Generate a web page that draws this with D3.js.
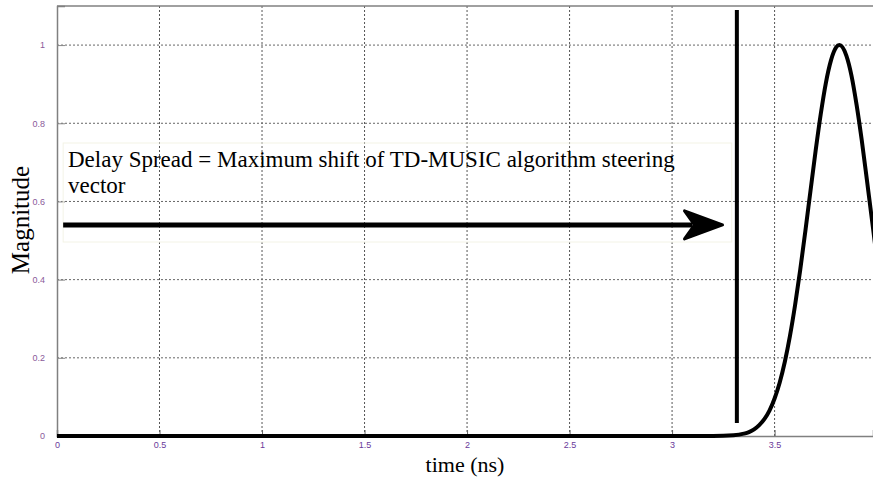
<!DOCTYPE html>
<html>
<head>
<meta charset="utf-8">
<script src="https://cdn.jsdelivr.net/npm/d3@7"></script>
<style>
  html, body { margin: 0; padding: 0; background: #fff; }
  svg { display: block; }
</style>
</head>
<body>
<svg id="chart" width="873" height="482"></svg>
<script>
// ---- data ----
const times = [0, 0.5, 1, 1.5, 2, 2.5, 2.8, 3.0, 3.2, 3.3, 3.35, 3.375, 3.4, 3.425, 3.45, 3.475, 3.5, 3.525, 3.55, 3.575, 3.6, 3.625, 3.65, 3.675, 3.7, 3.725, 3.75, 3.775, 3.8, 3.816, 3.85, 3.875, 3.9, 3.925, 3.95, 3.965, 3.98, 3.99];
const magnitudes = [0, 0, 0, 0, 0, 0, 0, 0, 0, 0.002, 0.006, 0.010, 0.017, 0.028, 0.043, 0.065, 0.096, 0.137, 0.190, 0.256, 0.335, 0.425, 0.524, 0.627, 0.729, 0.823, 0.903, 0.961, 0.994, 1.0, 0.973, 0.922, 0.847, 0.757, 0.656, 0.594, 0.532, 0.49];
const xTicks = [0, 0.5, 1, 1.5, 2, 2.5, 3, 3.5];
const yTicks = [0, 0.2, 0.4, 0.6, 0.8, 1];
const xTickLabels = ["0", "0.5", "1", "1.5", "2", "2.5", "3", "3.5"];
const yTickLabels = ["0", "0.2", "0.4", "0.6", "0.8", "1"];
const delaySpreadTime = [3.316];          // vertical marker position
const markerRange = [0.033, 1.09];        // vertical marker extent (magnitude units)
const arrowTimes = [0.03, 3.246];         // arrow start / tip
const arrowLevel = [0.54];                // arrow height
const annotationLines = ["Delay Spread = Maximum shift of TD-MUSIC algorithm steering", "vector"];
const xLabel = "time (ns)";
const yLabel = "Magnitude";

// ---- layout ----
const svg = d3.select("#chart");
const pL = 57, pR = 873, pT = 6, pB = 436;
const x = d3.scaleLinear().domain([0, 3.98]).range([pL, pR]);
const y = d3.scaleLinear().domain([0, 1.1]).range([pB, pT]);

svg.append("rect").attr("width", 873).attr("height", 482).attr("fill", "#fff");

// grid
const grid = svg.append("g");
grid.selectAll("line.gx").data(xTicks.filter(d => d > 0)).join("line")
  .attr("x1", d => x(d)).attr("x2", d => x(d))
  .attr("y1", y(1.1)).attr("y2", y(0))
  .attr("stroke", "#555").attr("stroke-width", 1).attr("stroke-dasharray", "2,2");
grid.selectAll("line.gy").data(yTicks.filter(d => d > 0)).join("line")
  .attr("x1", x(0)).attr("x2", pR)
  .attr("y1", d => y(d)).attr("y2", d => y(d))
  .attr("stroke", "#666").attr("stroke-width", 1).attr("stroke-dasharray", "2,2");

// axes
const xAxis = d3.axisBottom(x).tickValues(xTicks).tickSize(-6).tickPadding(6)
  .tickFormat((d, i) => xTickLabels[i]);
const gx = svg.append("g").attr("transform", `translate(0,${pB})`).call(xAxis);
gx.select(".domain").attr("stroke", "#808080").attr("stroke-width", 1.5);
gx.selectAll(".tick line").attr("stroke", "#666");
gx.selectAll("text").attr("font-family", "Liberation Sans, Arial, sans-serif")
  .attr("font-size", 9).attr("fill", "#6a3a9a");

const yAxis = d3.axisLeft(y).tickValues(yTicks).tickSize(-8).tickPadding(12)
  .tickFormat((d, i) => yTickLabels[i]);
const gy = svg.append("g").attr("transform", `translate(${pL},0)`).call(yAxis);
gy.select(".domain").attr("stroke", "#808080").attr("stroke-width", 1.5);
gy.selectAll(".tick line").attr("stroke", "#888");
gy.selectAll("text").attr("font-family", "Liberation Sans, Arial, sans-serif")
  .attr("font-size", 9).attr("fill", "#8a5a9a");

// top border
svg.append("line").attr("x1", pL).attr("x2", pR).attr("y1", y(1.1)).attr("y2", y(1.1))
  .attr("stroke", "#808080").attr("stroke-width", 1.5);

// faint annotation box
svg.append("rect")
  .attr("x", x(arrowTimes[0])).attr("y", 143)
  .attr("width", x(3.291) - x(arrowTimes[0])).attr("height", 99)
  .attr("fill", "none").attr("stroke", "#f3f3e6").attr("stroke-width", 1);

// curve
const data = times.map((t, i) => ({t, m: magnitudes[i]}));
svg.append("defs").append("clipPath").attr("id", "clip")
  .append("rect").attr("x", pL).attr("y", 0).attr("width", pR - pL).attr("height", pB + 4);
svg.append("path").datum(data)
  .attr("clip-path", "url(#clip)")
  .attr("fill", "none").attr("stroke", "#000").attr("stroke-width", 4)
  .attr("stroke-linejoin", "round")
  .attr("d", d3.line().x(d => x(d.t)).y(d => y(d.m)).curve(d3.curveMonotoneX));

// vertical marker line
svg.append("line")
  .attr("x1", x(delaySpreadTime[0])).attr("x2", x(delaySpreadTime[0]))
  .attr("y1", y(markerRange[1])).attr("y2", y(markerRange[0]))
  .attr("stroke", "#000").attr("stroke-width", 4);

// arrow
const ay = y(arrowLevel[0]);
const tipX = x(arrowTimes[1]);
svg.append("line")
  .attr("x1", x(arrowTimes[0])).attr("x2", tipX - 30)
  .attr("y1", ay).attr("y2", ay)
  .attr("stroke", "#000").attr("stroke-width", 5);
svg.append("path")
  .attr("d", `M${tipX},${ay} L${tipX - 38},${ay - 14} L${tipX - 28},${ay} L${tipX - 38},${ay + 14} Z`)
  .attr("fill", "#000").attr("stroke", "#000").attr("stroke-width", 3).attr("stroke-linejoin", "round");

// annotation text
const ann = svg.append("text")
  .attr("font-family", "Liberation Serif, Times New Roman, serif")
  .attr("font-size", 23).attr("fill", "#000");
annotationLines.forEach((s, i) => {
  ann.append("tspan").attr("x", 68).attr("y", 167 + i * 26).text(s);
});

// axis labels
svg.append("text").attr("x", 465).attr("y", 472).attr("text-anchor", "middle")
  .attr("font-family", "Liberation Serif, Times New Roman, serif")
  .attr("font-size", 22).attr("fill", "#000").text(xLabel);
svg.append("text").attr("transform", "translate(29,220) rotate(-90)").attr("text-anchor", "middle")
  .attr("font-family", "Liberation Serif, Times New Roman, serif")
  .attr("font-size", 25).attr("fill", "#000").text(yLabel);
</script>
</body>
</html>
